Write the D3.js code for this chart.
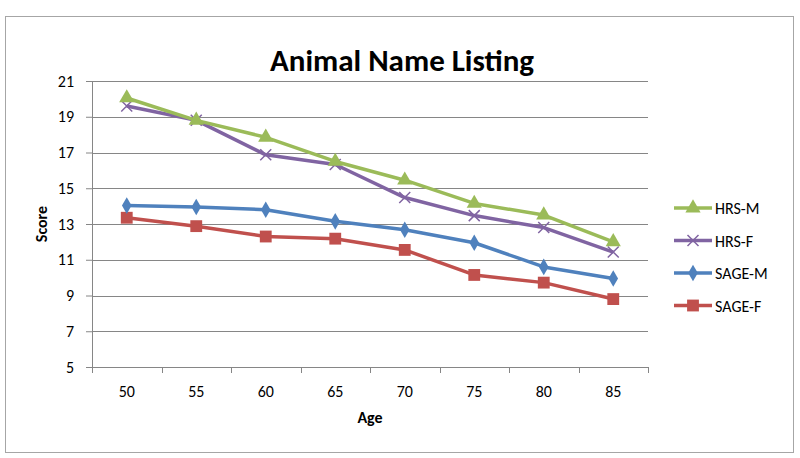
<!DOCTYPE html>
<html>
<head>
<meta charset="utf-8">
<script src="https://cdn.jsdelivr.net/npm/d3@7"></script>
<style>
  body { margin: 0; background: #fff; }
  svg text { font-family: Carlito, Calibri, Lato, "Open Sans", sans-serif; fill: #000; }
</style>
</head>
<body>
<svg id="chart" width="800" height="458"></svg>
<script>
// data
var ages = [50, 55, 60, 65, 70, 75, 80, 85];
var hrsM = [20.05, 18.8, 17.85, 16.5, 15.45, 14.15, 13.5, 12.0];
var hrsF = [19.6, 18.8, 16.87, 16.33, 14.48, 13.47, 12.8, 11.43];
var sageM = [14.03, 13.95, 13.8, 13.15, 12.68, 11.95, 10.6, 9.95];
var sageF = [13.35, 12.88, 12.3, 12.18, 11.55, 10.15, 9.72, 8.8];
var yTicks = [5, 7, 9, 11, 13, 15, 17, 19, 21];

var series = [
  {name: "HRS-M", values: hrsM, color: "#9bbb59", shape: "triangle"},
  {name: "HRS-F", values: hrsF, color: "#8064a2", shape: "cross"},
  {name: "SAGE-M", values: sageM, color: "#4f81bd", shape: "diamond"},
  {name: "SAGE-F", values: sageF, color: "#c0504d", shape: "square"}
];

var margin = {top: 81, right: 152, bottom: 91, left: 92},
    width = 800 - margin.left - margin.right,
    height = 458 - margin.top - margin.bottom;

var svg = d3.select("#chart");

// chart area border
svg.append("rect")
    .attr("x", 5.5).attr("y", 16.5)
    .attr("width", 788).attr("height", 436)
    .attr("fill", "#fff")
    .attr("stroke", "#a6a6a6");

var g = svg.append("g").attr("transform", "translate(" + margin.left + "," + margin.top + ")");

var x = d3.scaleBand().domain(ages).range([0, width]);
var y = d3.scaleLinear().domain([5, 21]).range([height, 0]);

// gridlines
g.selectAll(".grid")
    .data(yTicks.slice(1))
    .enter().append("line")
    .attr("x1", 0).attr("x2", width)
    .attr("y1", (d) => Math.round(y(d)) + 0.5)
    .attr("y2", (d) => Math.round(y(d)) + 0.5)
    .attr("stroke", "#868686");

// y axis
var yAxis = g.append("g")
    .call(d3.axisLeft(y).tickValues(yTicks).tickSize(6).tickPadding(12).tickSizeOuter(0));
yAxis.select(".domain").attr("stroke", "#868686");
yAxis.selectAll(".tick line").attr("stroke", "#868686");
yAxis.selectAll("text").style("font-size", "16px");

// x axis, ticks between categories like Excel
var xAxis = g.append("g").attr("transform", "translate(0," + height + ")");
xAxis.append("line")
    .attr("x1", 0).attr("x2", width)
    .attr("y1", 0.5).attr("y2", 0.5)
    .attr("stroke", "#868686");
xAxis.selectAll(".xt")
    .data(d3.range(ages.length + 1))
    .enter().append("line")
    .attr("x1", (i) => Math.round(i * x.step()) + 0.5)
    .attr("x2", (i) => Math.round(i * x.step()) + 0.5)
    .attr("y1", 0).attr("y2", 6)
    .attr("stroke", "#868686");
xAxis.selectAll(".xl")
    .data(ages)
    .enter().append("text")
    .attr("x", (d) => x(d) + x.bandwidth() / 2)
    .attr("y", 30)
    .attr("text-anchor", "middle")
    .style("font-size", "16px")
    .text((d) => d);

// axis titles
svg.append("text")
    .attr("x", margin.left + width / 2).attr("y", 423)
    .attr("text-anchor", "middle")
    .style("font-size", "16px").style("font-weight", "bold")
    .text("Age");
svg.append("text")
    .attr("transform", "translate(47," + (margin.top + height / 2) + ") rotate(-90)")
    .attr("text-anchor", "middle")
    .style("font-size", "16px").style("font-weight", "bold")
    .text("Score");

// title
svg.append("text")
    .attr("x", 402).attr("y", 71)
    .attr("text-anchor", "middle")
    .style("font-size", "31px").style("font-weight", "bold")
    .text("Animal Name Listing");

function marker(sel, s) {
  if (s.shape === "cross") {
    sel.append("path")
      .attr("d", "M-5.5,-5.5L5.5,5.5M-5.5,5.5L5.5,-5.5")
      .attr("stroke", s.color).attr("stroke-width", 1.5).attr("fill", "none");
  } else {
    var sym = {triangle: d3.symbolTriangle, diamond: d3.symbolDiamond, square: d3.symbolSquare}[s.shape];
    var size = {triangle: 100, diamond: 80, square: 140}[s.shape];
    sel.append("path")
      .attr("d", d3.symbol().type(sym).size(size)())
      .attr("fill", s.color);
  }
}

var line = d3.line()
    .x((d, i) => x(ages[i]) + x.bandwidth() / 2)
    .y((d) => y(d));

// draw SAGE first so HRS lines sit on top like the picture
[series[3], series[2], series[1], series[0]].forEach(function (s) {
  g.append("path")
    .datum(s.values)
    .attr("d", line)
    .attr("fill", "none")
    .attr("stroke", s.color)
    .attr("stroke-width", 3.5)
    .attr("stroke-linejoin", "round");
  s.values.forEach(function (v, i) {
    var m = g.append("g")
      .attr("transform", "translate(" + (x(ages[i]) + x.bandwidth() / 2) + "," + y(v) + ")");
    marker(m, s);
  });
});

// legend
var legend = svg.append("g").attr("transform", "translate(674,208)");
series.forEach(function (s, i) {
  var row = legend.append("g").attr("transform", "translate(0," + (i * 32.5) + ")");
  row.append("line")
    .attr("x1", 0).attr("x2", 38)
    .attr("stroke", s.color).attr("stroke-width", 3.5);
  marker(row.append("g").attr("transform", "translate(19,0)"), s);
  row.append("text")
    .attr("x", 41).attr("y", 6)
    .style("font-size", "16px")
    .text(s.name);
});
</script>
</body>
</html>
